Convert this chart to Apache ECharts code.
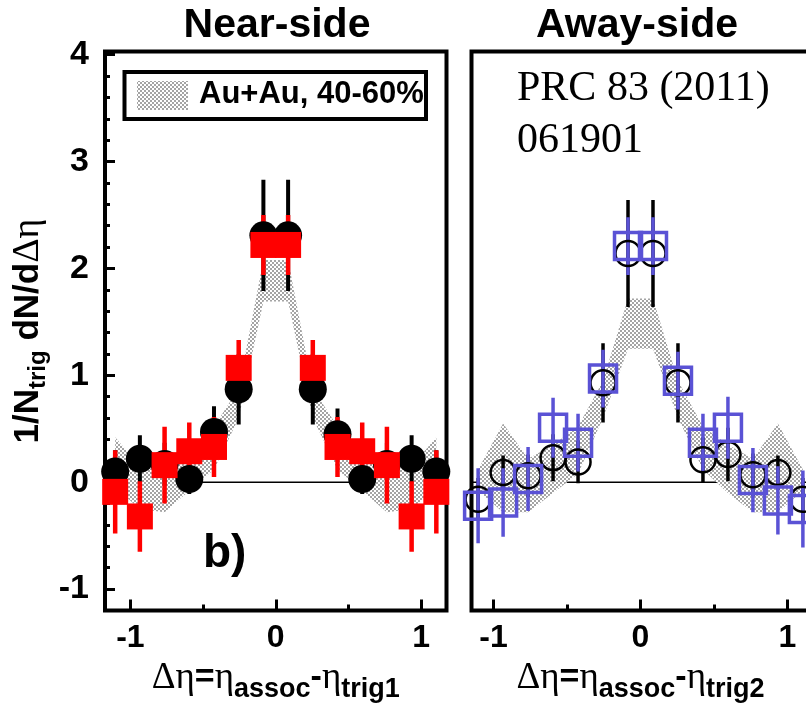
<!DOCTYPE html>
<html>
<head>
<meta charset="utf-8">
<script src="https://cdn.jsdelivr.net/npm/echarts@6/dist/echarts.min.js"></script>
<style>
  html, body { margin: 0; padding: 0; background: #fff; }
  #chart { width: 806px; height: 707px; }
</style>
</head>
<body>
<div id="chart"></div>
<script>
// Δη bin centres shared by every series
const etaBins = [-1.105, -0.935, -0.765, -0.595, -0.425, -0.255, -0.085,
                  0.085,  0.255,  0.425,  0.595,  0.765,  0.935,  1.105];

// Near-side: filled black circles and red squares with their errors
const nearBlack    = [0.10, 0.22, 0.17, 0.03, 0.47, 0.87, 2.31, 2.31, 0.87, 0.45, 0.03, 0.17, 0.22, 0.10];
const nearBlackErr = [0.20, 0.22, 0.20, 0.14, 0.24, 0.33, 0.52, 0.52, 0.33, 0.24, 0.14, 0.20, 0.22, 0.20];
const nearRed      = [-0.09, -0.32, 0.16, 0.29, 0.33, 1.07, 2.22, 2.22, 1.07, 0.33, 0.29, 0.16, -0.32, -0.09];
const nearRedErr   = [0.39, 0.33, 0.36, 0.27, 0.28, 0.26, 0.28, 0.28, 0.26, 0.28, 0.27, 0.36, 0.33, 0.39];
// Near-side Au+Au 40-60% band (upper / lower edge)
const nearBandHi   = [0.42, 0.15, 0.10, 0.25, 0.52, 0.88, 2.08, 2.08, 0.88, 0.52, 0.25, 0.10, 0.15, 0.42];
const nearBandLo   = [-0.05, -0.25, -0.28, -0.08, 0.12, 0.60, 1.69, 1.69, 0.60, 0.12, -0.08, -0.28, -0.25, -0.05];

// Away-side: open black circles and open blue squares with their errors
const awayBlack    = [-0.16, 0.09, 0.06, 0.23, 0.19, 0.93, 2.14, 2.14, 0.93, 0.21, 0.26, 0.07, 0.09, -0.16];
const awayBlackErr = [0.20, 0.16, 0.20, 0.22, 0.20, 0.37, 0.50, 0.50, 0.37, 0.21, 0.25, 0.20, 0.16, 0.20];
const awayBlue     = [-0.22, -0.19, 0.03, 0.51, 0.37, 0.97, 2.21, 2.21, 0.95, 0.37, 0.51, 0.02, -0.17, -0.25];
const awayBlueErr  = [0.35, 0.32, 0.30, 0.28, 0.27, 0.27, 0.27, 0.27, 0.27, 0.27, 0.29, 0.30, 0.32, 0.36];
// Away-side Au+Au 40-60% band (upper / lower edge)
const awayBandHi   = [0.12, 0.55, 0.22, 0.35, 0.52, 0.95, 1.72, 1.72, 0.95, 0.52, 0.35, 0.22, 0.55, 0.12];
const awayBandLo   = [-0.08, -0.28, -0.28, -0.10, 0.08, 0.60, 1.25, 1.25, 0.60, 0.12, -0.10, -0.28, -0.28, -0.08];

// Tick positions
const yMajorTicks = [-1, 0, 1, 2, 3, 4];
const yMinorTicks = [-0.8, -0.6, -0.4, -0.2, 0.2, 0.4, 0.6, 0.8, 1.2, 1.4, 1.6, 1.8,
                     2.2, 2.4, 2.6, 2.8, 3.2, 3.4, 3.6, 3.8];
const xMajorTicks = [-1, 0, 1];
const xMinorTicks = [-0.5, 0.5];

const SANS = 'Liberation Sans, Arial, sans-serif';
const SERIF = 'Liberation Serif, Times New Roman, serif';

// grey checker fill used for the Au+Au band
const tile = document.createElement('canvas');
tile.width = 4; tile.height = 4;
const tctx = tile.getContext('2d');
tctx.fillStyle = '#a4a4a4'; tctx.fillRect(0, 0, 4, 4);
tctx.fillStyle = '#ffffff'; tctx.fillRect(0, 0, 2, 2); tctx.fillRect(2, 2, 2, 2);
const checker = { image: tile, repeat: 'repeat' };

const Y_MIN = -1.2, Y_MAX = 4.03;
const NEAR_X = [-1.175, 1.175];
const AWAY_X = [-1.15, 1.15];
const noLine = { show: false, onZero: false };

function bandSeries(hi, lo, xIdx, yIdx, xr) {
  return {
    type: 'custom', xAxisIndex: xIdx, yAxisIndex: yIdx, silent: true, clip: true,
    data: [[0, 0]],
    renderItem(params, api) {
      const pts = [];
      etaBins.forEach((x, i) => pts.push(api.coord([x, hi[i]])));
      for (let i = etaBins.length - 1; i >= 0; i--) pts.push(api.coord([etaBins[i], lo[i]]));
      const a = api.coord([xr[0], 0]), b = api.coord([xr[1], 0]);
      return {
        type: 'group',
        children: [
          { type: 'line', shape: { x1: a[0], y1: a[1], x2: b[0], y2: b[1] },
            style: { stroke: '#000', lineWidth: 1.3 } },
          { type: 'polygon', shape: { points: pts }, style: { fill: checker } }
        ]
      };
    }
  };
}

function errSeries(vals, errs, color, width, xIdx, yIdx) {
  return {
    type: 'custom', xAxisIndex: xIdx, yAxisIndex: yIdx, silent: true, clip: true,
    data: etaBins.map((x, i) => [x, vals[i] - errs[i], vals[i] + errs[i]]),
    encode: { x: 0, y: [1, 2] },
    renderItem(params, api) {
      const p = api.coord([api.value(0), api.value(1)]);
      const q = api.coord([api.value(0), api.value(2)]);
      return { type: 'line', shape: { x1: p[0], y1: p[1], x2: q[0], y2: q[1] },
               style: { stroke: color, lineWidth: width } };
    }
  };
}

function pointSeries(vals, xIdx, yIdx, symbol, size, itemStyle) {
  return {
    type: 'scatter', xAxisIndex: xIdx, yAxisIndex: yIdx, silent: true, clip: true,
    symbol, symbolSize: size, itemStyle: Object.assign({ opacity: 1 }, itemStyle),
    data: etaBins.map((x, i) => [x, vals[i]])
  };
}

function xAxes(gridIndex, range, trigName) {
  const rich = {
    g: { fontFamily: SERIF, fontSize: 37, color: '#000' },
    b: { fontFamily: SANS, fontWeight: 'bold', fontSize: 34, color: '#000' },
    s: { fontFamily: SANS, fontWeight: 'bold', fontSize: 27, color: '#000', padding: [24, 0, 0, 0] }
  };
  return [
    {
      type: 'value', gridIndex, position: 'bottom', min: range[0], max: range[1],
      axisLine: noLine, splitLine: { show: false },
      axisTick: { inside: true, length: 11, customValues: xMajorTicks,
                  lineStyle: { color: '#000', width: 3 } },
      axisLabel: { customValues: xMajorTicks, fontFamily: SANS, fontWeight: 'bold',
                   fontSize: 32, color: '#000', margin: 12 },
      name: '{g|Δη}{b|=}{g|η}{s|assoc}{b|-}{g|η}{s|' + trigName + '}',
      nameLocation: 'middle', nameGap: 42,
      nameTextStyle: { rich }
    },
    {
      type: 'value', gridIndex, position: 'bottom', min: range[0], max: range[1],
      axisLine: noLine, splitLine: { show: false }, axisLabel: { show: false },
      axisTick: { inside: true, length: 6, customValues: xMinorTicks,
                  lineStyle: { color: '#000', width: 3 } }
    }
  ];
}

const chart = echarts.init(document.getElementById('chart'), null, { renderer: 'canvas' });

chart.setOption({
  animation: false,
  backgroundColor: '#fff',
  grid: [
    { left: 105, top: 51.5, width: 341.5, height: 559, show: true, outerBoundsMode: 'none',
      containLabel: false, borderColor: '#000', borderWidth: 4, backgroundColor: 'transparent' },
    { left: 471.5, top: 51.5, width: 338, height: 559, show: true, outerBoundsMode: 'none',
      containLabel: false, borderColor: '#000', borderWidth: 4, backgroundColor: 'transparent' }
  ],
  xAxis: [].concat(xAxes(0, NEAR_X, 'trig1'), xAxes(1, AWAY_X, 'trig2')),
  yAxis: [
    {
      type: 'value', gridIndex: 0, position: 'left', min: Y_MIN, max: Y_MAX,
      axisLine: noLine, splitLine: { show: false },
      axisTick: { inside: true, length: 10, customValues: yMajorTicks,
                  lineStyle: { color: '#000', width: 3 } },
      axisLabel: { customValues: yMajorTicks, fontFamily: SANS, fontWeight: 'bold',
                   fontSize: 34, color: '#000', margin: 16 },
      name: '{b|1/N}{s|trig}{b| dN/d}{g|Δη}',
      nameLocation: 'middle', nameRotate: 90, nameGap: 55,
      nameTextStyle: {
        rich: {
          b: { fontFamily: SANS, fontWeight: 'bold', fontSize: 35, color: '#000' },
          s: { fontFamily: SANS, fontWeight: 'bold', fontSize: 24, color: '#000', padding: [20, 0, 0, 0] },
          g: { fontFamily: SERIF, fontSize: 38, color: '#000' }
        }
      }
    },
    {
      type: 'value', gridIndex: 0, position: 'left', min: Y_MIN, max: Y_MAX,
      axisLine: noLine, splitLine: { show: false }, axisLabel: { show: false },
      axisTick: { inside: true, length: 5, customValues: yMinorTicks,
                  lineStyle: { color: '#000', width: 3 } }
    },
    {
      type: 'value', gridIndex: 1, position: 'left', min: Y_MIN, max: Y_MAX,
      axisLine: noLine, splitLine: { show: false },
      axisLabel: { show: false }, axisTick: { show: false }
    }
  ],
  series: [
    bandSeries(nearBandHi, nearBandLo, 0, 0, NEAR_X),
    errSeries(nearBlack, nearBlackErr, '#000', 4, 0, 0),
    pointSeries(nearBlack, 0, 0, 'circle', 28, { color: '#000' }),
    errSeries(nearRed, nearRedErr, '#ff0000', 4.5, 0, 0),
    pointSeries(nearRed, 0, 0, 'rect', 26, { color: '#ff0000' }),

    bandSeries(awayBandHi, awayBandLo, 2, 2, AWAY_X),
    errSeries(awayBlack, awayBlackErr, '#000', 3.5, 2, 2),
    pointSeries(awayBlack, 2, 2, 'circle', 25,
      { color: 'rgba(0,0,0,0)', borderColor: '#000', borderWidth: 2.5 }),
    errSeries(awayBlue, awayBlueErr, '#5a52d5', 3.5, 2, 2),
    pointSeries(awayBlue, 2, 2, 'rect', 27,
      { color: 'rgba(0,0,0,0)', borderColor: '#5a52d5', borderWidth: 3.5 })
  ],
  graphic: [
    { type: 'text', x: 277, y: 26, style: { text: 'Near-side', fontFamily: SANS, fontWeight: 'bold',
        fontSize: 41, fill: '#000', align: 'center', verticalAlign: 'middle' } },
    { type: 'text', x: 637, y: 26, style: { text: 'Away-side', fontFamily: SANS, fontWeight: 'bold',
        fontSize: 41, fill: '#000', align: 'center', verticalAlign: 'middle' } },
    // legend box
    { type: 'rect', shape: { x: 124.5, y: 72, width: 301.5, height: 47 },
      style: { fill: '#fff', stroke: '#000', lineWidth: 4 }, z: 10 },
    { type: 'rect', shape: { x: 137, y: 81, width: 51, height: 29 },
      style: { fill: checker }, z: 11 },
    { type: 'text', x: 199, y: 94, z: 11, style: { text: 'Au+Au, 40-60%', fontFamily: SANS,
        fontWeight: 'bold', fontSize: 31, fill: '#000', verticalAlign: 'middle' } },
    { type: 'text', x: 203, y: 554, z: 11, style: { text: 'b)', fontFamily: SANS,
        fontWeight: 'bold', fontSize: 46, fill: '#000', verticalAlign: 'middle' } },
    { type: 'text', x: 517, y: 63, z: 11, style: { text: 'PRC 83 (2011)\n061901', fontFamily: SERIF,
        fontSize: 42, lineHeight: 52, fill: '#000', verticalAlign: 'top' } }
  ]
});
</script>
</body>
</html>
